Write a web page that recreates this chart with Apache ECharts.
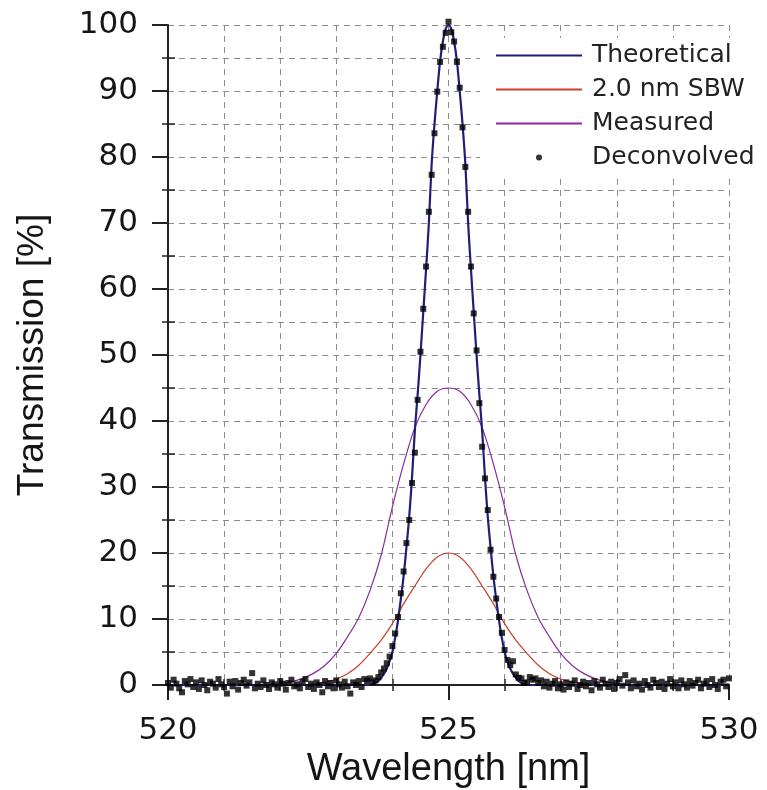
<!DOCTYPE html>
<html>
<head>
<meta charset="utf-8">
<title>Transmission</title>
<script src="https://cdn.jsdelivr.net/npm/echarts@6.0.0/dist/echarts.min.js"></script>
<style>
  html, body { margin: 0; padding: 0; background: #fff; }
  #chart { width: 767px; height: 790px; }
</style>
</head>
<body>
<div id="chart"></div>
<script>
// theoretical band shape
const thX = [520, 523.6, 523.7, 523.75, 523.8, 523.85, 523.9, 523.95, 524.0, 524.05, 524.1, 524.15, 524.2, 524.25, 524.3, 524.35, 524.4, 524.45, 524.5, 524.55, 524.6, 524.65, 524.7, 524.75, 524.8, 524.85, 524.9, 524.95, 525.0,
  525.05, 525.1, 525.15, 525.2, 525.25, 525.3, 525.35, 525.4, 525.45, 525.5, 525.55, 525.6, 525.65, 525.7, 525.75, 525.8, 525.85, 525.9, 525.95, 526.0, 526.05, 526.1, 526.15, 526.2, 526.25, 526.3, 526.4, 530];
const thY = [0, 0, 0.3, 0.6, 1.1, 1.7, 2.5, 3.6, 5.0, 7.2, 9.8, 13.0, 16.5, 20.8, 25.5, 31.5, 38.5, 44.0, 50.0, 56.5, 63.0, 70.0, 79.0, 85.0, 90.0, 94.5, 97.5, 99.4, 100,
  99.4, 97.5, 94.5, 90.0, 85.0, 79.0, 70.0, 63.0, 56.5, 50.0, 44.0, 38.5, 31.5, 25.5, 20.8, 16.5, 13.0, 9.8, 7.2, 5.0, 3.6, 2.5, 1.7, 1.1, 0.6, 0.3, 0, 0];

// 2.0 nm SBW
const sbwX = [520, 522.4, 522.6, 522.8, 523.0, 523.2, 523.4, 523.6, 523.8, 524.0, 524.2, 524.4, 524.6, 524.8, 525.0,
  525.2, 525.4, 525.6, 525.8, 526.0, 526.2, 526.4, 526.6, 526.8, 527.0, 527.2, 527.4, 527.6, 530];
const sbwY = [0, 0, 0.15, 0.4, 0.9, 1.7, 3.0, 4.8, 6.8, 9.3, 12.3, 15.0, 17.6, 19.4, 20,
  19.4, 17.6, 15.0, 12.3, 9.3, 6.8, 4.8, 3.0, 1.7, 0.9, 0.4, 0.15, 0, 0];

// measured
const measX = [520, 521.8, 522.0, 522.2, 522.4, 522.6, 522.8, 523.0, 523.2, 523.4, 523.6, 523.8, 524.0, 524.2, 524.4, 524.6, 524.8, 525.0,
  525.2, 525.4, 525.6, 525.8, 526.0, 526.2, 526.4, 526.6, 526.8, 527.0, 527.2, 527.4, 527.6, 527.8, 528.0, 528.2, 530];
const measY = [0, 0, 0.2, 0.5, 1.0, 1.8, 3.0, 4.8, 7.3, 10.2, 14.3, 19.7, 27.0, 33.5, 39.0, 42.5, 44.5, 45,
  44.5, 42.5, 39.0, 33.5, 27.0, 19.7, 14.3, 10.2, 7.3, 4.8, 3.0, 1.8, 1.0, 0.5, 0.2, 0, 0];

// deconvolved points, one every 0.05 nm from 520 to 530
const dotStart = 520;
const dotStep = 0.05;
const dotY = [
  // 520.00 - 523.60
  0.3, -0.4, 0.8, 0.2, -0.5, -1.1, 0.6, 0.1, 0.9, -0.3, 0.4, -0.6, 0.7, 0.0, -0.8, 0.5, 0.2, -0.4, 0.9, 0.1,
  -0.3, -1.3, 0.5, -0.2, 0.6, -0.7, 0.3, 0.8, -0.1, 0.4, 1.8, -0.5, 0.2, -0.3, 0.7, 0.0, -0.6, 0.4, 0.1, -0.4,
  0.6, 0.2, -0.7, 0.3, 0.8, -0.2, 0.1, -0.5, 0.5, 0.9, -0.3, 0.2, -0.6, 0.4, 0.0, -1.1, 0.6, -0.2, 0.3, -0.5,
  0.7, 0.1, -0.4, 0.5, -0.2, -1.3, 0.4, 0.0, 0.6, -0.3, 0.9, 0.6, 1.0,
  // 523.65 - 526.35
  0.4, 0.7, 1.2, 1.9, 2.5, 3.3, 4.3, 5.9, 7.8, 10.3, 13.9, 17.2, 21.5, 25.0, 30.6, 35.2, 43.2, 50.5, 57.0, 63.4,
  71.7, 77.3, 83.6, 89.9, 94.4, 96.7, 98.8, 100.5, 98.9, 97.5, 94.4, 90.5, 84.5, 78.5, 71.7, 63.4, 56.3, 50.7, 42.7, 36.1,
  31.3, 26.5, 20.5, 16.4, 13.1, 10.3, 7.9, 5.3, 3.8, 3.0, 3.6, 1.6, 1.1, 1.0, 0.3,
  // 526.40 - 530.00
  0.4, 1.2, 0.8, 1.0, 0.3, 0.7, -0.2, 0.5, -0.4, 0.2, 0.6, -0.5, 0.1, -0.7, 0.4, -0.3, 0.2, 0.7, -0.6, 0.0,
  0.5, -0.2, 0.3, -0.8, 0.6, 0.1, -0.4, 0.8, 0.2, -0.3, 0.5, -0.6, 0.3, 0.9, -0.1, 1.5, 0.4, -0.5, 0.7, -0.2,
  0.2, -0.7, 0.6, 0.0, -0.4, 0.8, 0.3, -0.3, 0.5, -0.6, 0.2, 0.9, -0.2, 0.4, -0.5, 0.7, 0.1, -0.4, 0.6, -0.1,
  0.3, 0.8, -0.5, 0.2, 0.6, -0.3, 0.9, 0.0, -0.6, 0.5, 0.8, -0.2, 1.0
];

const xMinorTicks = [521, 522, 523, 524, 526, 527, 528, 529];
const yMinorTicks = [5, 15, 25, 35, 45, 55, 65, 75, 85, 95];

const gridDash = { type: [6, 5], color: "#8c8c8c", width: 1 };
const axisColor = "#222";
const tickFont = { fontFamily: "DejaVu Sans", fontSize: 31, color: "#151515" };
const noSymbol = { opacity: 0 };

function zip(xs, ys) {
  return xs.map((x, i) => [x, ys[i]]);
}

function initChart() {
  const chart = echarts.init(document.getElementById("chart"), null, { renderer: "canvas" });

  const dots = dotY.map((y, i) => [+(dotStart + i * dotStep).toFixed(2), y]);

  const option = {
    backgroundColor: "#fff",
    animation: false,
    grid: {
      left: 168,
      right: 38,
      top: 25,
      bottom: 105,
      outerBoundsMode: "none",
    },
    legend: {
      orient: "vertical",
      left: 480,
      top: 38,
      padding: [5, 10, 5, 15],
      backgroundColor: "#fff",
      itemWidth: 86,
      itemHeight: 6,
      itemGap: 9,
      textStyle: {
        fontFamily: "DejaVu Sans",
        fontSize: 25,
        lineHeight: 25,
        color: "#222",
        padding: [0, 0, 0, 5],
      },
      data: [
        { name: "Theoretical", itemStyle: noSymbol },
        { name: "2.0 nm SBW", itemStyle: noSymbol },
        { name: "Measured", itemStyle: noSymbol },
        { name: "Deconvolved", icon: "circle" },
      ],
    },
    xAxis: [
      {
        type: "value",
        min: 520,
        max: 530,
        interval: 5,
        position: "bottom",
        name: "Wavelength [nm]",
        nameLocation: "middle",
        nameGap: 62,
        nameTextStyle: { fontFamily: "Liberation Sans", fontSize: 38, color: "#151515" },
        axisLine: { onZero: false, lineStyle: { color: axisColor, width: 2 } },
        axisTick: { length: 15, lineStyle: { color: axisColor, width: 2 } },
        minorTick: { show: true, splitNumber: 5, length: 6, lineStyle: { color: axisColor, width: 1.5 } },
        axisLabel: { ...tickFont, margin: 30 },
        splitLine: { show: true, lineStyle: gridDash },
        minorSplitLine: { show: true, lineStyle: gridDash },
      },
      {
        type: "value",
        min: 520,
        max: 530,
        position: "bottom",
        axisLine: { show: false, onZero: false },
        axisLabel: { show: false },
        splitLine: { show: false },
        axisTick: {
          show: true,
          inside: true,
          length: 6,
          customValues: xMinorTicks,
          lineStyle: { color: axisColor, width: 1.5 },
        },
      },
    ],
    yAxis: [
      {
        type: "value",
        min: 0,
        max: 100,
        interval: 10,
        position: "left",
        name: "Transmission [%]",
        nameLocation: "middle",
        nameGap: 117,
        nameRotate: 90,
        nameTextStyle: { fontFamily: "Liberation Sans", fontSize: 37, color: "#151515" },
        axisLine: { show: true, onZero: false, lineStyle: { color: axisColor, width: 2 } },
        axisTick: { show: true, length: 16, lineStyle: { color: axisColor, width: 2 } },
        minorTick: { show: true, splitNumber: 2, length: 6, lineStyle: { color: axisColor, width: 1.5 } },
        axisLabel: { ...tickFont, margin: 30 },
        splitLine: { show: true, lineStyle: gridDash },
        minorSplitLine: { show: true, lineStyle: gridDash },
      },
      {
        type: "value",
        min: 0,
        max: 100,
        position: "left",
        axisLine: { show: false, onZero: false },
        axisLabel: { show: false },
        splitLine: { show: false },
        axisTick: {
          show: true,
          inside: true,
          length: 7,
          customValues: yMinorTicks,
          lineStyle: { color: axisColor, width: 1.5 },
        },
      },
    ],
    series: [
      {
        name: "Theoretical",
        type: "line",
        data: zip(thX, thY),
        symbol: "none",
        smooth: 0.3,
        z: 4,
        itemStyle: { color: "#1f1f78" },
        lineStyle: { color: "#1f1f78", width: 2.2 },
      },
      {
        name: "2.0 nm SBW",
        type: "line",
        data: zip(sbwX, sbwY),
        symbol: "none",
        smooth: 0.3,
        z: 3,
        itemStyle: { color: "#c8402a" },
        lineStyle: { color: "#c8402a", width: 1.2 },
      },
      {
        name: "Measured",
        type: "line",
        data: zip(measX, measY),
        symbol: "none",
        smooth: 0.3,
        z: 3,
        itemStyle: { color: "#8a2a9e" },
        lineStyle: { color: "#8a2a9e", width: 1.2 },
      },
      {
        name: "Deconvolved",
        type: "scatter",
        data: dots,
        symbol: "rect",
        symbolSize: 6,
        clip: false,
        z: 5,
        itemStyle: { color: "#000" },
      },
    ],
  };

  chart.setOption(option);
}

initChart();
</script>
</body>
</html>
